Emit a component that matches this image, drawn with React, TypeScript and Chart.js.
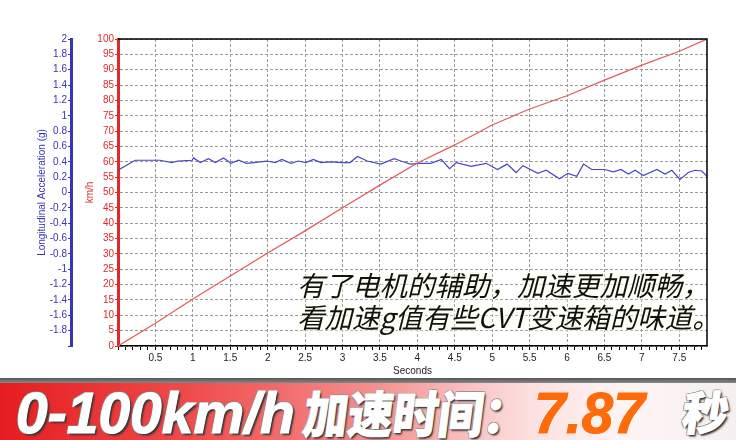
import React, { useEffect, useRef } from 'react';
import { Chart, registerables } from 'chart.js';

Chart.register(...registerables);

// ---- Data ----
const speedTime = [0, 0.5, 1, 1.5, 2, 2.5, 3, 3.5, 4, 4.5, 5, 5.5, 6, 6.5, 7, 7.5, 7.87];
const speedKmh = [0, 7.4, 15.3, 22.8, 30.3, 37.5, 45, 52.4, 59.6, 65.5, 72, 77.2, 81.5, 86.6, 91.5, 96, 100];

const accelTime = [
  0, 0.23, 0.56, 0.72, 0.8, 0.99, 1.01, 1.1, 1.21, 1.3, 1.41, 1.51, 1.61, 1.72, 1.81, 1.99,
  2.1, 2.19, 2.31, 2.41, 2.51, 2.61, 2.71, 2.84, 3.0, 3.1, 3.2, 3.33, 3.51, 3.69, 3.78, 3.91,
  4.02, 4.18, 4.32, 4.43, 4.52, 4.72, 4.92, 5.07, 5.2, 5.32, 5.41, 5.61, 5.72, 5.9, 6.01, 6.13,
  6.22, 6.33, 6.5, 6.62, 6.72, 6.82, 6.91, 7.02, 7.2, 7.31, 7.4, 7.51, 7.62, 7.71, 7.8, 7.87,
];
const accelG = [
  0.29, 0.42, 0.42, 0.39, 0.41, 0.42, 0.45, 0.39, 0.44, 0.39, 0.45, 0.38, 0.42, 0.38, 0.39, 0.41,
  0.39, 0.43, 0.38, 0.41, 0.39, 0.43, 0.39, 0.4, 0.39, 0.39, 0.47, 0.41, 0.37, 0.44, 0.41, 0.37,
  0.38, 0.38, 0.43, 0.31, 0.39, 0.34, 0.38, 0.3, 0.37, 0.26, 0.35, 0.25, 0.29, 0.18, 0.25, 0.21,
  0.37, 0.3, 0.3, 0.27, 0.3, 0.24, 0.29, 0.22, 0.3, 0.24, 0.29, 0.17, 0.26, 0.29, 0.28, 0.21,
];

const xMin = 0;
const xMax = 7.87;
const xMinorStep = 0.1;
const speedMin = 0;
const speedMax = 100;
const speedStep = 5;
const accelMin = -2;
const accelMax = 2;
const accelStep = 0.2;

const xTitle = 'Seconds';
const speedTitle = 'km/h';
const accelTitle = 'Longitudinal Acceleration (g)';
const noteLines = ['有了电机的辅助，加速更加顺畅，', '看加速g值有些CVT变速箱的味道。'];
const bannerLabel = '0-100km/h';
const bannerCjk = '加速时间：';
const bannerValue = '7.87';
const bannerUnit = '秒';

const RED = '#e02a2a';
const BLUE = '#3535b5';
const FONT = '"Liberation Sans", Arial, sans-serif';
const CJK = '"Noto Sans CJK SC", sans-serif';

const fmt = (v: number) => String(Math.round(v * 10) / 10);
const isHalf = (v: number) => Math.abs(v * 2 - Math.round(v * 2)) < 1e-6;

const framePlugin = {
  id: 'frame',
  afterDraw(chart: any) {
    const { ctx, chartArea: a } = chart;
    ctx.save();
    ctx.strokeStyle = '#000';
    ctx.lineWidth = 1.5;
    ctx.beginPath();
    ctx.moveTo(a.left, a.top);
    ctx.lineTo(a.right, a.top);
    ctx.lineTo(a.right, a.bottom);
    ctx.stroke();
    ctx.restore();
  },
};

function App() {
  const ref = useRef<HTMLCanvasElement | null>(null);

  useEffect(() => {
    if (!ref.current) return;
    const chart = new Chart(ref.current, {
      type: 'line',
      data: {
        datasets: [
          {
            label: 'Speed',
            data: speedTime.map((t, i) => ({ x: t, y: speedKmh[i] })),
            borderColor: '#e05a5a',
            borderWidth: 1.2,
            pointRadius: 0,
            tension: 0,
            yAxisID: 'y',
          },
          {
            label: 'Accel',
            data: accelTime.map((t, i) => ({ x: t, y: accelG[i] })),
            borderColor: '#4646c8',
            borderWidth: 1.2,
            pointRadius: 0,
            tension: 0,
            yAxisID: 'y2',
          },
        ],
      },
      options: {
        responsive: false,
        animation: false,
        devicePixelRatio: 1,
        layout: { padding: { top: 39, right: 29, left: 0, bottom: 0 } },
        plugins: { legend: { display: false }, tooltip: { enabled: false } },
        scales: {
          x: {
            type: 'linear',
            min: xMin,
            max: xMax,
            afterFit: (s: any) => { s.height = 34; },
            ticks: {
              stepSize: xMinorStep,
              includeBounds: false,
              autoSkip: false,
              maxRotation: 0,
              padding: 2,
              color: '#222',
              font: { family: FONT, size: 10 },
              callback: (v: any) => (isHalf(Number(v)) && Number(v) > 0 ? fmt(Number(v)) : ''),
            },
            grid: {
              color: (c: any) => (c.tick && isHalf(c.tick.value) && c.tick.value > 0 ? '#9a9a9a' : 'rgba(0,0,0,0)'),
              tickColor: '#000',
              tickLength: 4,
              lineWidth: 1,
            },
            border: { color: '#000', width: 1.5, dash: [3, 2] },
            title: {
              display: true,
              text: xTitle,
              color: '#222',
              font: { family: FONT, size: 10 },
              padding: { top: 0, bottom: 3 },
            },
          },
          y: {
            type: 'linear',
            position: 'left',
            weight: 0,
            min: speedMin,
            max: speedMax,
            afterFit: (s: any) => { s.width = 47; },
            ticks: {
              stepSize: speedStep,
              autoSkip: false,
              padding: 1,
              color: RED,
              font: { family: FONT, size: 10 },
            },
            grid: { color: '#9a9a9a', tickColor: RED, tickLength: 3, lineWidth: 1 },
            border: { color: RED, width: 3, dash: [3, 2] },
            title: {
              display: true,
              text: speedTitle,
              color: RED,
              font: { family: FONT, size: 10 },
              padding: { top: 13, bottom: 0 },
            },
          },
          y2: {
            type: 'linear',
            position: 'left',
            weight: 1,
            min: accelMin,
            max: accelMax,
            afterFit: (s: any) => { s.width = 71; },
            ticks: {
              stepSize: accelStep,
              autoSkip: false,
              padding: 1,
              color: BLUE,
              font: { family: FONT, size: 10 },
              callback: (v: any) => (Math.abs(Number(v) - accelMin) < 1e-6 ? '' : fmt(Number(v))),
            },
            grid: { drawOnChartArea: false, tickColor: BLUE, tickLength: 3 },
            border: { color: BLUE, width: 3 },
            title: {
              display: true,
              text: accelTitle,
              color: BLUE,
              font: { family: FONT, size: 10 },
              padding: { top: 36, bottom: 0 },
            },
          },
        },
      },
      plugins: [framePlugin],
    } as any);
    return () => chart.destroy();
  }, []);

  const bannerText: React.CSSProperties = {
    position: 'absolute',
    whiteSpace: 'nowrap',
    fontWeight: 900,
    color: '#fff',
    lineHeight: 1,
    WebkitTextStroke: '1px #fff',
    textShadow: '2px 2px 2px #333, -1px -1px 0 #8a8a8a, 1px -1px 0 #8a8a8a, -1px 1px 0 #8a8a8a, 1px 1px 0 #8a8a8a',
  } as any;

  return (
    <div style={{ position: 'absolute', left: 0, top: 0, width: 736, height: 440, background: '#fff', overflow: 'hidden' }}>
      <canvas ref={ref} width={736} height={380} style={{ position: 'absolute', left: 0, top: 0, width: 736, height: 380 }} />
      <div
        style={{
          position: 'absolute',
          left: 297,
          top: 268,
          fontFamily: CJK,
          fontSize: 27.5,
          lineHeight: '32px',
          fontStyle: 'italic',
          color: '#111',
          whiteSpace: 'nowrap',
          textShadow: '0 0 3px #fffff0, 0 0 5px #ffffe8, 0 0 7px #ffffe8',
        }}
      >
        {noteLines.map((l, i) => (
          <div key={i}>{l}</div>
        ))}
      </div>
      <div style={{ position: 'absolute', left: 0, top: 378, width: 736, height: 5, background: 'linear-gradient(to bottom, #555, #888)' }} />
      <div
        style={{
          position: 'absolute',
          left: 0,
          top: 383,
          width: 736,
          height: 57,
          overflow: 'hidden',
          background: 'linear-gradient(to right, #e51d20 0%, #ee4a4a 25%, #f58c8c 50%, #fde0e0 72%, #fff4f4 85%, #f5f0f0 100%)',
        }}
      >
        <span style={{ ...bannerText, left: 16, top: 2, fontFamily: FONT, fontSize: 57, fontStyle: 'italic' }}>{bannerLabel}</span>
        <span
          style={{
            ...bannerText,
            left: 304,
            top: 3,
            fontFamily: CJK,
            fontSize: 50,
            transform: 'scaleX(0.9) skewX(-8deg)',
            transformOrigin: 'left center',
          }}
        >
          {bannerCjk}
        </span>
        <span
          style={{
            ...bannerText,
            left: 534,
            top: 2,
            fontFamily: FONT,
            fontSize: 57,
            fontStyle: 'italic',
            color: '#ff6a0a',
            WebkitTextStroke: '1px #ff6a0a',
            textShadow: '1px 1px 1px #fff, -1px -1px 0 #fff',
          } as any}
        >
          {bannerValue}
        </span>
        <span
          style={{
            ...bannerText,
            left: 683,
            top: 4,
            fontFamily: CJK,
            fontSize: 46,
            transform: 'skewX(-8deg)',
          }}
        >
          {bannerUnit}
        </span>
      </div>
    </div>
  );
}

export default App;
